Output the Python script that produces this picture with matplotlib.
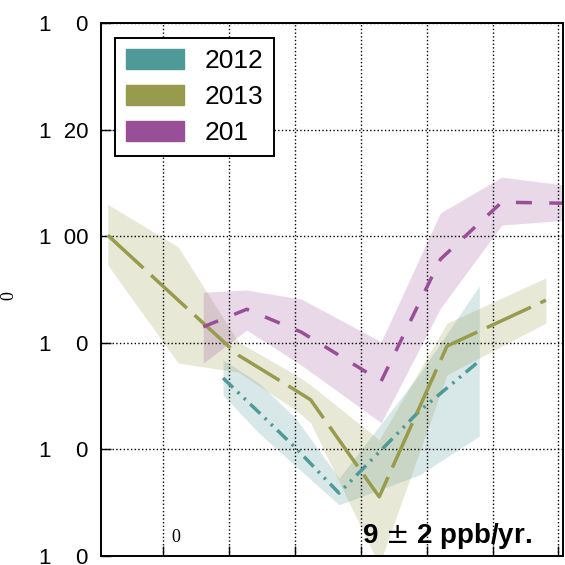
import matplotlib
matplotlib.use('Agg')
from matplotlib import pyplot as plt
from matplotlib.patches import Patch

plt.rcParams['lines.scale_dashes'] = False

# 2012
x12 = [0.91, 1.45, 2.01, 2.67, 3.89, 4.80]
y12 = [1773.4, 1767.0, 1760.3, 1751.8, 1767.2, 1776.6]
lo12 = [1770.2, 1763.1, 1756.9, 1749.6, 1755.2, 1762.5]
hi12 = [1776.8, 1772.5, 1765.9, 1754.6, 1774.1, 1790.7]

# 2013
x13 = [-0.84, 0.23, 1.14, 2.01, 2.24, 3.28, 4.31, 5.81]
y13 = [1800.2, 1788.0, 1777.7, 1771.1, 1769.3, 1751.1, 1779.4, 1788.0]
lo13 = [1794.6, 1776.2, 1774.5, 1767.4, 1765.0, 1738.3, 1774.0, 1783.7]
hi13 = [1806.0, 1798.0, 1780.2, 1774.0, 1772.1, 1761.8, 1783.7, 1792.2]

# 2014
x14 = [0.61, 1.27, 2.10, 3.31, 4.21, 5.14, 6.10]
y14 = [1783.0, 1786.3, 1782.0, 1772.8, 1795.7, 1806.4, 1806.2]
lo14 = [1776.2, 1782.4, 1775.8, 1765.0, 1786.5, 1802.1, 1803.0]
hi14 = [1789.5, 1789.9, 1788.2, 1780.2, 1804.4, 1811.1, 1809.6]

yticks = [1740, 1760, 1780, 1800, 1820, 1840]
ytick_labels = ['1    0', '1    0', '1    0', '1  00', '1  20', '1    0']
xticks = [0, 1, 2, 3, 4, 5, 6]
legend_labels = ['2012', '2013', '201']

c12 = '#4e9a98'
c13 = '#989a4c'
c14 = '#994e98'

fig, ax = plt.subplots(figsize=(5.65, 5.65), dpi=100)
fig.subplots_adjust(left=0.179, right=0.9965, top=0.959, bottom=0.016)

ax.fill_between(x12, lo12, hi12, color=c12, alpha=0.22, linewidth=0)
ax.fill_between(x13, lo13, hi13, color=c13, alpha=0.22, linewidth=0)
ax.fill_between(x14, lo14, hi14, color=c14, alpha=0.22, linewidth=0)

ax.plot(x12, y12, color=c12, linewidth=2.5,
        dashes=(10, 4.5, 1.8, 4.5, 1.8, 4.5))
ax.plot(x13, y13, color=c13, linewidth=2.5, dashes=(35, 7.5))
ax.plot(x14, y14, color=c14, linewidth=2.5, dashes=(11.5, 12.5))

ax.set_xlim(-0.94, 6.07)
ax.set_ylim(1740, 1840)
ax.set_xticks(xticks)
ax.set_xticklabels([])
ax.set_yticks(yticks)
ax.set_yticklabels(ytick_labels, family='Liberation Sans', fontsize=16)
ax.tick_params(axis='both', direction='in', length=7, width=1, pad=9)
ax.grid(True, linestyle=':', color='black', linewidth=1)
for s in ax.spines.values():
    s.set_linewidth(1.4)

ax.set_ylabel('0', family='Liberation Serif', fontsize=13)
ax.yaxis.set_label_coords(-0.182, 0.488)
ax.text(0.153, 0.026, '0', transform=ax.transAxes, family='Liberation Serif',
        fontsize=13, va='baseline')
ax.text(0.565, 0.024, '9 $\\pm$ 2 ppb/yr.', transform=ax.transAxes,
        family='Liberation Sans', fontweight='bold', fontsize=20, va='baseline')

handles = [Patch(color=c, label=l) for c, l in zip([c12, c13, c14], legend_labels)]
leg = ax.legend(handles=handles, loc='upper left', bbox_to_anchor=(0.03, 0.972),
                borderaxespad=0, prop={'family': 'Liberation Sans', 'size': 19},
                handlelength=2.2, handleheight=0.8, handletextpad=0.8,
                labelspacing=0.45, borderpad=0.4, fancybox=False, framealpha=1)
leg.get_frame().set_edgecolor('black')
leg.get_frame().set_linewidth(1.4)

fig.savefig('out.png', dpi=100)
